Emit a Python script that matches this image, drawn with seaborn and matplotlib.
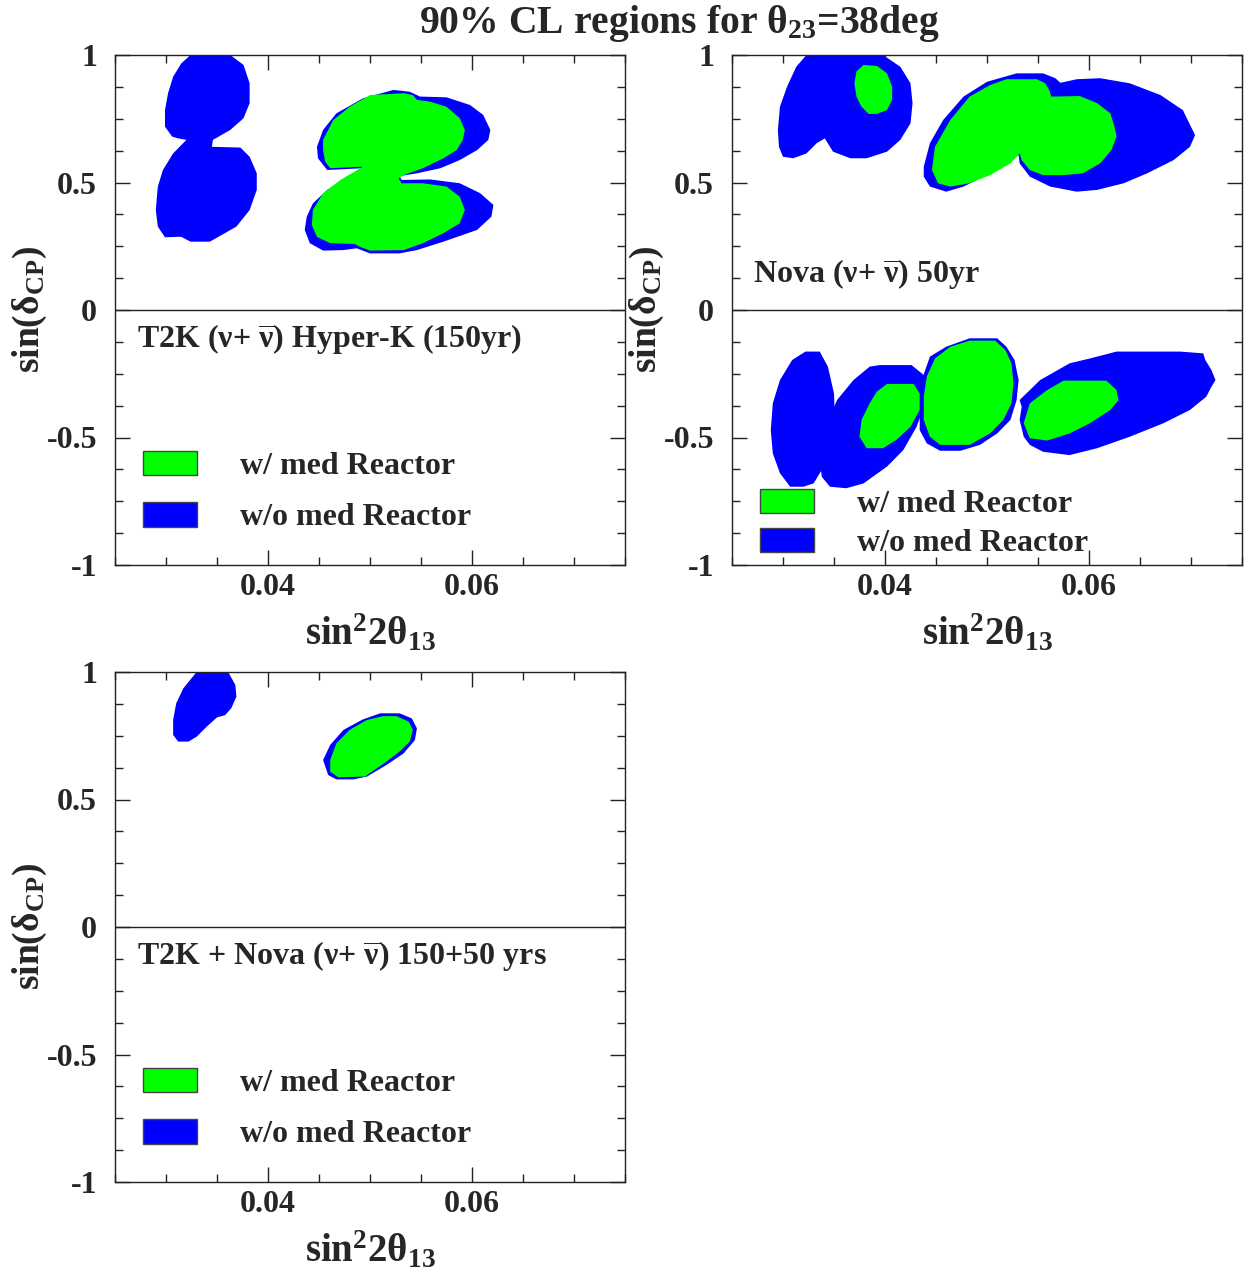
import matplotlib
matplotlib.use("Agg")
import matplotlib.pyplot as plt
from matplotlib.patches import Patch
from matplotlib.ticker import FixedLocator, MultipleLocator
import seaborn as sns

# ---- data: 90% CL region outlines (sin^2 2theta13, sin deltaCP) ----
# T2K Hyper-K panel
t2k_blue_a_x = [0.0324, 0.0363, 0.0376, 0.0382, 0.0382, 0.0376, 0.0363, 0.0346, 0.0345, 0.0373, 0.0382,
                0.0389, 0.0389, 0.0382, 0.0369, 0.0343, 0.0324, 0.0315, 0.0312, 0.0299, 0.0292, 0.0290,
                0.0292, 0.0297, 0.0307, 0.0320, 0.0312, 0.0306, 0.0299, 0.0299, 0.0302, 0.0307, 0.0315]
t2k_blue_a_y = [1.0, 1.0, 0.961, 0.889, 0.811, 0.752, 0.706, 0.667, 0.640, 0.637, 0.601,
                0.536, 0.471, 0.392, 0.327, 0.268, 0.268, 0.287, 0.287, 0.285, 0.327, 0.392,
                0.484, 0.549, 0.614, 0.667, 0.673, 0.680, 0.719, 0.784, 0.850, 0.915, 0.967]
t2k_blue_b_x = [0.0454, 0.0467, 0.0493, 0.0523, 0.0539, 0.0549, 0.0575, 0.0598, 0.0611, 0.0618, 0.0616,
                0.0605, 0.0588, 0.0569, 0.0546, 0.0529, 0.0531, 0.0559, 0.0588, 0.0608, 0.0621, 0.0619,
                0.0605, 0.0572, 0.0546, 0.0529, 0.0500, 0.0487, 0.0474, 0.0454, 0.0441, 0.0436, 0.0438,
                0.0444, 0.0458, 0.0474, 0.0493, 0.0458, 0.0449, 0.0448]
t2k_blue_b_y = [0.706, 0.771, 0.830, 0.863, 0.856, 0.837, 0.834, 0.804, 0.765, 0.706, 0.667,
                0.627, 0.588, 0.556, 0.536, 0.525, 0.510, 0.512, 0.497, 0.458, 0.412, 0.366,
                0.314, 0.268, 0.235, 0.222, 0.222, 0.242, 0.235, 0.233, 0.262, 0.314, 0.366,
                0.418, 0.471, 0.510, 0.556, 0.549, 0.595, 0.640]
t2k_green_x = [0.0454, 0.0464, 0.0480, 0.0500, 0.0533, 0.0542, 0.0546, 0.0559, 0.0575, 0.0588, 0.0593,
               0.0591, 0.0585, 0.0572, 0.0552, 0.0533, 0.0528, 0.0531, 0.0552, 0.0575, 0.0588, 0.0593,
               0.0588, 0.0572, 0.0552, 0.0533, 0.0500, 0.0490, 0.0485, 0.0461, 0.0448, 0.0443, 0.0444,
               0.0454, 0.0471, 0.0493, 0.0461, 0.0456, 0.0454]
t2k_green_y = [0.667, 0.745, 0.797, 0.843, 0.850, 0.843, 0.824, 0.817, 0.797, 0.752, 0.706,
               0.667, 0.627, 0.595, 0.556, 0.529, 0.516, 0.497, 0.497, 0.484, 0.444, 0.392,
               0.340, 0.301, 0.262, 0.235, 0.233, 0.248, 0.259, 0.262, 0.287, 0.333, 0.392,
               0.458, 0.510, 0.562, 0.556, 0.582, 0.627]

# Nova panel
nova_blue_a_x = [0.0323, 0.0398, 0.0415, 0.0425, 0.0427, 0.0425, 0.0415, 0.0402, 0.0382, 0.0366, 0.0349,
                 0.0341, 0.0333, 0.0323, 0.0310, 0.0300, 0.0296, 0.0295, 0.0297, 0.0304, 0.0313]
nova_blue_a_y = [1.0, 1.0, 0.954, 0.889, 0.811, 0.732, 0.667, 0.621, 0.595, 0.595, 0.621,
                 0.673, 0.654, 0.614, 0.595, 0.601, 0.640, 0.706, 0.797, 0.876, 0.954]
nova_green_a_x = [0.0379, 0.0392, 0.0402, 0.0407, 0.0407, 0.0402, 0.0392, 0.0384, 0.0377, 0.0372, 0.0370, 0.0372]
nova_green_a_y = [0.961, 0.957, 0.928, 0.876, 0.824, 0.784, 0.769, 0.769, 0.797, 0.837, 0.889, 0.935]
nova_blue_b_x = [0.0438, 0.0444, 0.0457, 0.0477, 0.0500, 0.0529, 0.0555, 0.0567, 0.0572, 0.0588, 0.0611,
                 0.0640, 0.0670, 0.0692, 0.0704, 0.0699, 0.0683, 0.0657, 0.0634, 0.0608, 0.0588, 0.0562,
                 0.0542, 0.0532, 0.0531, 0.0519, 0.0500, 0.0477, 0.0460, 0.0444, 0.0438]
nova_blue_b_y = [0.562, 0.654, 0.745, 0.837, 0.895, 0.928, 0.928, 0.909, 0.891, 0.905, 0.909,
                 0.889, 0.843, 0.784, 0.686, 0.640, 0.588, 0.536, 0.497, 0.471, 0.464, 0.484,
                 0.523, 0.575, 0.608, 0.575, 0.529, 0.484, 0.464, 0.484, 0.523]
nova_green_b_x = [0.0446, 0.0449, 0.0464, 0.0483, 0.0503, 0.0519, 0.0549, 0.0557, 0.0561, 0.0563, 0.0591,
                  0.0608, 0.0621, 0.0625, 0.0627, 0.0622, 0.0611, 0.0594, 0.0575, 0.0555, 0.0542, 0.0534,
                  0.0532, 0.0523, 0.0503, 0.0483, 0.0464, 0.0452]
nova_green_b_y = [0.549, 0.640, 0.745, 0.837, 0.882, 0.905, 0.905, 0.889, 0.863, 0.837, 0.839,
                  0.811, 0.771, 0.719, 0.680, 0.627, 0.575, 0.536, 0.529, 0.529, 0.549, 0.588,
                  0.614, 0.575, 0.529, 0.497, 0.484, 0.497]
nova_blue_c_x = [0.0322, 0.0336, 0.0344, 0.0350, 0.0351, 0.0348, 0.0340, 0.0330, 0.0320, 0.0307, 0.0297,
                 0.0290, 0.0288, 0.0290, 0.0297, 0.0309]
nova_blue_c_y = [-0.163, -0.163, -0.222, -0.327, -0.431, -0.536, -0.614, -0.680, -0.693, -0.693, -0.640,
                 -0.562, -0.471, -0.366, -0.275, -0.196]
nova_blue_d_x = [0.0353, 0.0369, 0.0385, 0.0395, 0.0426, 0.0438, 0.0441, 0.0438, 0.0431, 0.0418, 0.0402,
                 0.0379, 0.0362, 0.0346, 0.0338, 0.0336, 0.0341, 0.0346]
nova_blue_d_y = [-0.353, -0.275, -0.222, -0.216, -0.216, -0.255, -0.301, -0.379, -0.458, -0.549, -0.614,
                 -0.680, -0.699, -0.693, -0.654, -0.588, -0.497, -0.418]
nova_green_d_x = [0.0402, 0.0428, 0.0434, 0.0434, 0.0425, 0.0411, 0.0398, 0.0382, 0.0375, 0.0377, 0.0385, 0.0392]
nova_green_d_y = [-0.290, -0.290, -0.327, -0.392, -0.458, -0.510, -0.542, -0.542, -0.497, -0.431, -0.366, -0.320]
nova_blue_e_x = [0.0444, 0.0460, 0.0483, 0.0510, 0.0519, 0.0527, 0.0531, 0.0529, 0.0523, 0.0510, 0.0493,
                 0.0474, 0.0454, 0.0441, 0.0434, 0.0434, 0.0436]
nova_blue_e_y = [-0.183, -0.144, -0.111, -0.111, -0.144, -0.196, -0.275, -0.353, -0.431, -0.484, -0.529,
                 -0.552, -0.552, -0.523, -0.471, -0.379, -0.275]
nova_green_e_x = [0.0449, 0.0464, 0.0483, 0.0508, 0.0518, 0.0524, 0.0526, 0.0524, 0.0516, 0.0503, 0.0483,
                  0.0454, 0.0444, 0.0438, 0.0438, 0.0441]
nova_green_e_y = [-0.190, -0.144, -0.120, -0.120, -0.157, -0.209, -0.288, -0.366, -0.431, -0.484, -0.529,
                  -0.529, -0.497, -0.431, -0.340, -0.261]
nova_blue_f_x = [0.0532, 0.0552, 0.0581, 0.0601, 0.0627, 0.0689, 0.0712, 0.0714, 0.0720, 0.0724, 0.0720,
                 0.0715, 0.0699, 0.0673, 0.0640, 0.0608, 0.0581, 0.0555, 0.0542, 0.0536, 0.0532, 0.0534]
nova_blue_f_y = [-0.353, -0.275, -0.209, -0.190, -0.163, -0.163, -0.170, -0.196, -0.235, -0.275, -0.301,
                 -0.340, -0.392, -0.444, -0.497, -0.542, -0.569, -0.556, -0.529, -0.497, -0.431, -0.379]
nova_green_f_x = [0.0536, 0.0542, 0.0559, 0.0575, 0.0617, 0.0627, 0.0629, 0.0621, 0.0601, 0.0581, 0.0559, 0.0542]
nova_green_f_y = [-0.444, -0.366, -0.314, -0.277, -0.277, -0.314, -0.353, -0.392, -0.444, -0.484, -0.512, -0.503]

# T2K + Nova panel
comb_blue_a_x = [0.0330, 0.0361, 0.0368, 0.0369, 0.0364, 0.0358, 0.0350, 0.0340, 0.0330, 0.0322, 0.0312,
                 0.0307, 0.0307, 0.0310, 0.0317]
comb_blue_a_y = [1.0, 1.0, 0.949, 0.903, 0.858, 0.831, 0.822, 0.786, 0.746, 0.727, 0.727,
                 0.753, 0.812, 0.877, 0.936]
comb_blue_b_x = [0.0454, 0.0461, 0.0474, 0.0493, 0.0510, 0.0529, 0.0541, 0.0546, 0.0544, 0.0533, 0.0516,
                 0.0497, 0.0484, 0.0467, 0.0459]
comb_blue_b_y = [0.655, 0.714, 0.773, 0.814, 0.838, 0.838, 0.818, 0.779, 0.733, 0.681, 0.635,
                 0.590, 0.579, 0.579, 0.596]
comb_green_x = [0.0461, 0.0467, 0.0480, 0.0497, 0.0513, 0.0526, 0.0538, 0.0542, 0.0539, 0.0529, 0.0516,
                0.0495, 0.0469, 0.0461]
comb_green_y = [0.655, 0.720, 0.773, 0.812, 0.827, 0.827, 0.805, 0.773, 0.727, 0.688, 0.648,
                0.590, 0.587, 0.609]

legend_labels = ["w/ med Reactor", "w/o med Reactor"]
xticks = [0.04, 0.06]
xticklabels = ["0.04", "0.06"]
yticks = [-1, -0.5, 0, 0.5, 1]
yticklabels = ["-1", "-0.5", "0", "0.5", "1"]

GREEN = "#00ff00"
BLUE = "#0000ff"
NUBAR = r"$\overline{\mathrm{\nu}}$"

sns.set_theme(style="ticks", rc={"axes.linewidth": 1.0})
plt.rcParams["font.family"] = ["Liberation Serif", "DejaVu Serif"]
plt.rcParams["font.weight"] = "bold"
plt.rcParams["mathtext.fontset"] = "custom"
plt.rcParams["mathtext.rm"] = "Liberation Serif:bold"
plt.rcParams["mathtext.bf"] = "Liberation Serif:bold"
plt.rcParams["mathtext.it"] = "Liberation Serif:italic:bold"


def style_axes(ax):
    ax.set_xlim(0.025, 0.075)
    ax.set_ylim(-1, 1)
    ax.xaxis.set_major_locator(FixedLocator(xticks))
    ax.set_xticklabels(xticklabels)
    ax.xaxis.set_minor_locator(MultipleLocator(0.005))
    ax.yaxis.set_major_locator(FixedLocator(yticks))
    ax.set_yticklabels(yticklabels)
    ax.yaxis.set_minor_locator(MultipleLocator(0.125))
    ax.tick_params(which="both", direction="in", top=True, right=True, width=1.0, color="#222222")
    ax.tick_params(which="major", length=11, labelsize=23)
    ax.tick_params(which="minor", length=5.5)
    ax.tick_params(axis="x", pad=6)
    ax.tick_params(axis="y", pad=13)
    for s in ax.spines.values():
        s.set_linewidth(1.0)
        s.set_color("#222222")
    ax.axhline(0, color="#222222", lw=1.0, zorder=1)
    ax.set_ylabel(r"sin(δ$_{\mathrm{CP}}$)", fontsize=27, fontweight="bold")
    ax.yaxis.set_label_coords(-0.13, 0.5)
    ax.set_xlabel(r"sin$^{\mathrm{2}}$2θ$_{\mathrm{13}}$", fontsize=28, fontweight="bold")
    ax.xaxis.set_label_coords(0.5, -0.095)
    ax.xaxis.label.set_va("top")


def add_legend(ax, anchor, spacing):
    handles = [Patch(facecolor=GREEN, edgecolor="#444444", lw=1.0, label=legend_labels[0]),
               Patch(facecolor=BLUE, edgecolor="#444444", lw=1.0, label=legend_labels[1])]
    ax.legend(handles=handles, loc="upper left", bbox_to_anchor=anchor, frameon=False,
              handlelength=1.7, handleheight=0.8, handletextpad=1.35, labelspacing=spacing,
              borderaxespad=0, borderpad=0, prop={"size": 23, "weight": "bold"})


fig = plt.figure(figsize=(12.54, 12.8), dpi=100)
ax1 = fig.add_axes([115 / 1254, 1 - 565 / 1280, 510 / 1254, 510 / 1280])
ax2 = fig.add_axes([732 / 1254, 1 - 565 / 1280, 510 / 1254, 510 / 1280])
ax3 = fig.add_axes([115 / 1254, 1 - 1182 / 1280, 510 / 1254, 510 / 1280])

# panel 1
ax1.fill(t2k_blue_a_x, t2k_blue_a_y, color=BLUE, lw=0, zorder=2)
ax1.fill(t2k_blue_b_x, t2k_blue_b_y, color=BLUE, lw=0, zorder=2)
ax1.fill(t2k_green_x, t2k_green_y, color=GREEN, lw=0, zorder=3)
ax1.text(0.0272, -0.115, "T2K (ν+ " + NUBAR + ") Hyper-K (150yr)", fontsize=23,
         fontweight="bold", va="center")
style_axes(ax1)
add_legend(ax1, (0.055, 0.224), 0.66)

# panel 2
for bx, by in [(nova_blue_a_x, nova_blue_a_y), (nova_blue_b_x, nova_blue_b_y),
               (nova_blue_c_x, nova_blue_c_y), (nova_blue_d_x, nova_blue_d_y),
               (nova_blue_e_x, nova_blue_e_y), (nova_blue_f_x, nova_blue_f_y)]:
    ax2.fill(bx, by, color=BLUE, lw=0, zorder=2)
for gx, gy in [(nova_green_a_x, nova_green_a_y), (nova_green_b_x, nova_green_b_y),
               (nova_green_d_x, nova_green_d_y), (nova_green_e_x, nova_green_e_y),
               (nova_green_f_x, nova_green_f_y)]:
    ax2.fill(gx, gy, color=GREEN, lw=0, zorder=3)
ax2.text(0.0271, 0.14, "Nova (ν+ " + NUBAR + ") 50yr", fontsize=23, fontweight="bold", va="center")
style_axes(ax2)
add_legend(ax2, (0.055, 0.150), 0.28)

# panel 3
ax3.fill(comb_blue_a_x, comb_blue_a_y, color=BLUE, lw=0, zorder=2)
ax3.fill(comb_blue_b_x, comb_blue_b_y, color=BLUE, lw=0, zorder=2)
ax3.fill(comb_green_x, comb_green_y, color=GREEN, lw=0, zorder=3)
ax3.text(0.0272, -0.115, "T2K + Nova (ν+ " + NUBAR + ") 150+50 yrs", fontsize=23,
         fontweight="bold", va="center")
style_axes(ax3)
add_legend(ax3, (0.055, 0.224), 0.66)

fig.text(0.5415, 0.998, r"90% CL regions for θ$_{\mathrm{23}}$=38deg", fontsize=28.5,
         fontweight="bold", ha="center", va="top")

fig.savefig("out.png", dpi=100)
